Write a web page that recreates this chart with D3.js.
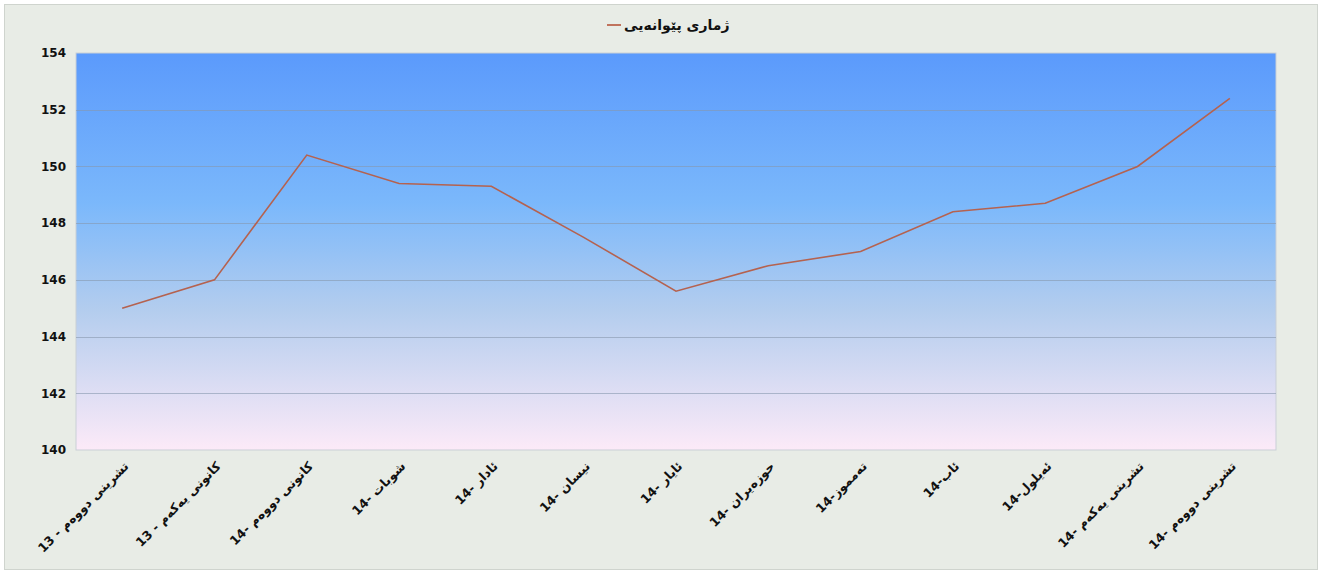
<!DOCTYPE html>
<meta charset="utf-8"/>
<title>ژماری پێوانەیی</title>
<script src="https://d3js.org/d3.v7.min.js"></script>
<style>
  body { margin: 0; background: #fff; }
  svg { display: block; font-family: 'DejaVu Sans', sans-serif; }
</style>
<svg id="chart" width="1322" height="574"></svg>
<script>
  const months = [
    'تشرینی دووەم - 13', 'کانونی یەکەم - 13', 'کانونی دووەم -14', 'شوبات -14',
    'ئادار -14', 'نیسان -14', 'ئایار -14', 'حوزەیران -14', 'تەمموز-14',
    'ئاب-14', 'ئەیلول-14', 'تشرینی یەکەم -14', 'تشرینی دووەم -14'
  ];
  const values = [145.0, 146.0, 150.4, 149.4, 149.3, 147.5, 145.6, 146.5, 147.0, 148.4, 148.7, 150.0, 152.4];
  const yTicks = [140, 142, 144, 146, 148, 150, 152, 154];
  const seriesName = 'ژماری پێوانەیی';

  const W = 1322, H = 574;
  const m = { left: 76, right: 46, top: 53, bottom: 124 };
  const svg = d3.select('#chart');

  svg.append('rect').attr('x', 4.5).attr('y', 4.5).attr('width', W - 9).attr('height', H - 9)
    .attr('fill', '#e8ece6').attr('stroke', '#cfd4ce');

  const x = d3.scaleBand().domain(months).range([m.left, W - m.right]);
  const y = d3.scaleLinear().domain([140, 154]).range([H - m.bottom, m.top]);

  const grad = svg.append('defs').append('linearGradient')
    .attr('id', 'bg').attr('x1', 0).attr('y1', 0).attr('x2', 0).attr('y2', 1);
  grad.append('stop').attr('offset', '0%').attr('stop-color', '#5b9afc');
  grad.append('stop').attr('offset', '38%').attr('stop-color', '#7bb8fb');
  grad.append('stop').attr('offset', '65%').attr('stop-color', '#b4cdee');
  grad.append('stop').attr('offset', '100%').attr('stop-color', '#fceaf8');

  svg.append('rect')
    .attr('x', m.left).attr('y', m.top)
    .attr('width', W - m.left - m.right).attr('height', H - m.top - m.bottom)
    .attr('fill', 'url(#bg)').attr('stroke', '#c9cfd6');

  // gridlines
  svg.append('g').selectAll('line').data(yTicks.slice(1, -1)).join('line')
    .attr('x1', m.left).attr('x2', W - m.right)
    .attr('y1', d => Math.round(y(d)) + 0.5).attr('y2', d => Math.round(y(d)) + 0.5)
    .attr('stroke', '#8797ad').attr('stroke-opacity', 0.6);

  // y axis
  const yAxis = svg.append('g').attr('transform', `translate(${m.left},0)`)
    .call(d3.axisLeft(y).tickValues(yTicks).tickSize(0).tickPadding(10));
  yAxis.select('.domain').remove();
  yAxis.selectAll('text').attr('font-size', 12).attr('font-weight', 'bold')
    .attr('fill', '#111').attr('font-family', 'DejaVu Sans');

  // x axis labels
  const xAxis = svg.append('g').attr('transform', `translate(0,${H - m.bottom})`)
    .call(d3.axisBottom(x).tickSize(0));
  xAxis.select('.domain').remove();
  xAxis.selectAll('text')
    .attr('font-size', 12.5).attr('font-weight', 'bold').attr('fill', '#111')
    .attr('font-family', 'DejaVu Sans')
    .attr('direction', 'rtl')
    .attr('text-anchor', 'start')
    .attr('dy', '0.35em')
    .attr('transform', 'translate(4,14) rotate(-45)')
    .attr('y', 0);

  // line
  const line = d3.line().x((d, i) => x(months[i]) + x.bandwidth() / 2).y(d => y(d));
  svg.append('path').datum(values)
    .attr('d', line).attr('fill', 'none')
    .attr('stroke', '#b5624f').attr('stroke-width', 1.6);

  // title with legend marker
  const title = svg.append('g').attr('transform', 'translate(0,25)');
  title.append('line').attr('x1', 607).attr('x2', 621).attr('y1', 0).attr('y2', 0)
    .attr('stroke', '#c0735d').attr('stroke-width', 2);
  title.append('text').attr('x', 624).attr('dy', '0.35em')
    .attr('direction', 'rtl').attr('text-anchor', 'end')
    .attr('font-size', 14).attr('font-weight', 'bold').attr('fill', '#111')
    .text(seriesName);
</script>
